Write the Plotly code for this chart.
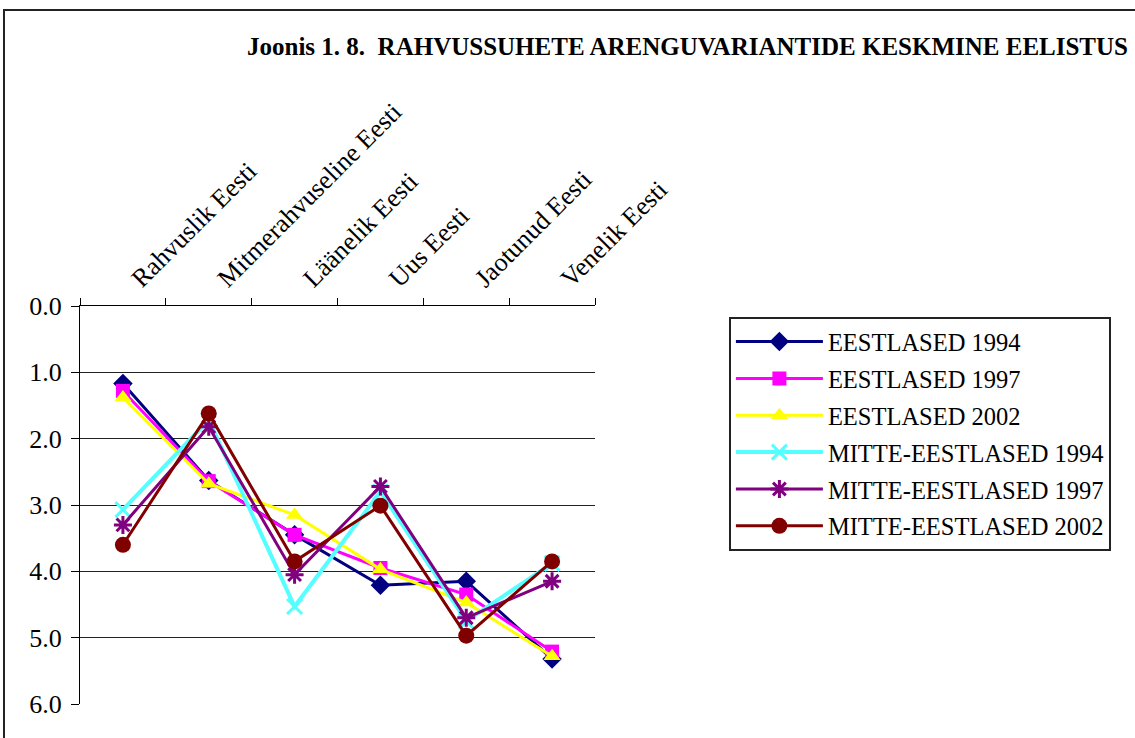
import plotly.graph_objects as go

categories = ["Rahvuslik Eesti", "Mitmerahvuseline Eesti", "Läänelik Eesti",
              "Uus Eesti", "Jaotunud Eesti", "Venelik Eesti"]

series_names = ["EESTLASED 1994", "EESTLASED 1997", "EESTLASED 2002",
                "MITTE-EESTLASED 1994", "MITTE-EESTLASED 1997", "MITTE-EESTLASED 2002"]

eest_1994 = [1.17, 2.63, 3.45, 4.21, 4.15, 5.32]
eest_1997 = [1.28, 2.64, 3.45, 3.95, 4.35, 5.21]
eest_2002 = [1.38, 2.68, 3.15, 3.97, 4.47, 5.28]
mitte_1994 = [3.07, 1.72, 4.53, 2.80, 4.75, 3.88]
mitte_1997 = [3.30, 1.82, 4.05, 2.72, 4.70, 4.15]
mitte_2002 = [3.60, 1.62, 3.85, 3.01, 4.97, 3.85]

y_ticks = [0, 1, 2, 3, 4, 5, 6]
title_text = "Joonis 1. 8.  RAHVUSSUHETE ARENGUVARIANTIDE KESKMINE EELISTUS"

values = [eest_1994, eest_1997, eest_2002, mitte_1994, mitte_1997, mitte_2002]
colors = ["#000080", "#FF00FF", "#FFFF00", "#55FFFF", "#800080", "#800000"]
symbols = ["diamond", "square", "triangle-up", "x-thin-open", "asterisk-open", "circle"]
msizes = [15, 14, 15, 15, 15, 16]
lwidths = [3, 3, 3, 4, 3, 3]

FONT = "Liberation Serif, Times New Roman, serif"

fig = go.Figure()
for i, (name, vals) in enumerate(zip(series_names, values)):
    open_sym = symbols[i].endswith("open")
    fig.add_trace(go.Scatter(
        x=categories, y=vals, name=name, mode="lines+markers",
        legendgroup=name,
        line=dict(color=colors[i], width=lwidths[i]),
        marker=dict(symbol=symbols[i], size=msizes[i], color=colors[i],
                    line=dict(color=colors[i], width=3 if open_sym else 0)),
    ))

fig.update_layout(
    width=1135, height=738,
    margin=dict(l=80, r=540, t=306, b=34),
    paper_bgcolor="white", plot_bgcolor="white",
    font=dict(family=FONT, size=20, color="black"),
    showlegend=True,
    legend=dict(
        x=1.26, y=0.972, xanchor="left", yanchor="top",
        bordercolor="#222", borderwidth=2, bgcolor="white",
        font=dict(family=FONT, size=24.5, color="black"),
        traceorder="grouped", tracegroupgap=2, itemwidth=87,
    ),
    xaxis=dict(
        type="category", side="top", range=[-0.5, 5.5],
        tickson="boundaries", ticks="outside", ticklen=7, tickcolor="black",
        showline=True, linecolor="black", linewidth=1,
        showgrid=False, tickangle=-45, automargin=False,
        ticklabelshift=10, ticklabelstandoff=2,
        tickfont=dict(family=FONT, size=26),
    ),
    yaxis=dict(
        range=[6, 0], tickvals=y_ticks, tickformat=".1f",
        ticks="outside", ticklen=8, tickcolor="black",
        showline=True, linecolor="black", linewidth=1,
        showgrid=True, gridcolor="#222", gridwidth=1, zeroline=False,
        automargin=False, ticklabelstandoff=4,
        tickfont=dict(family=FONT, size=26),
    ),
    annotations=[dict(
        text="<b>" + title_text + "</b>", xref="paper", yref="paper",
        x=2.039, y=1.651, xanchor="right", yanchor="middle", showarrow=False,
        font=dict(family=FONT, size=25, color="black"),
    )],
    shapes=[dict(
        type="rect", xref="paper", yref="paper",
        x0=-0.1476, y0=-0.12, x1=2.1, y1=1.744,
        line=dict(color="#222", width=2), layer="below",
    )],
)

fig.write_html("out.html", config={"displayModeBar": False},
               post_script="document.body.style.margin='0';")
